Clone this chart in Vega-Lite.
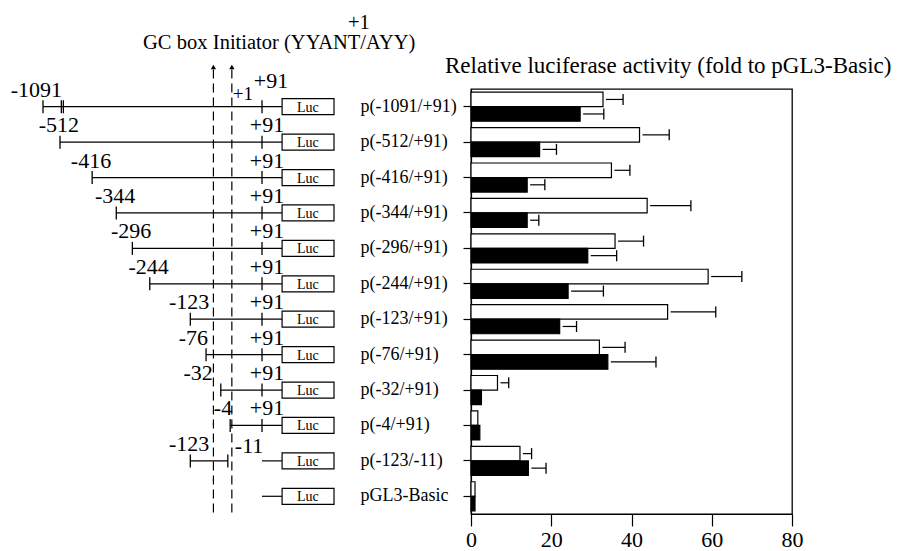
{
  "$schema": "https://vega.github.io/schema/vega-lite/v6.json",
  "autosize": {"type": "pad"},
  "padding": {"left": 0, "top": 12, "right": 0, "bottom": 0},
  "background": "white",
  "config": {
    "font": "Liberation Serif",
    "view": {"stroke": null},
    "text": {"font": "Liberation Serif", "color": "black"},
    "axis": {"labelFont": "Liberation Serif", "labelColor": "black", "domainColor": "black", "tickColor": "black", "domainWidth": 1.2, "tickWidth": 1.2, "grid": false, "title": null}
  },
  "datasets": {
    "bars": [
      {"construct": "p(-1091/+91)", "series": "open", "value": 32.9, "upper": 37.9},
      {"construct": "p(-1091/+91)", "series": "filled", "value": 27.2, "upper": 33.1},
      {"construct": "p(-512/+91)", "series": "open", "value": 42.0, "upper": 49.4},
      {"construct": "p(-512/+91)", "series": "filled", "value": 17.1, "upper": 21.3},
      {"construct": "p(-416/+91)", "series": "open", "value": 35.0, "upper": 39.6},
      {"construct": "p(-416/+91)", "series": "filled", "value": 14.0, "upper": 18.4},
      {"construct": "p(-344/+91)", "series": "open", "value": 43.9, "upper": 54.8},
      {"construct": "p(-344/+91)", "series": "filled", "value": 14.0, "upper": 16.9},
      {"construct": "p(-296/+91)", "series": "open", "value": 35.9, "upper": 43.0},
      {"construct": "p(-296/+91)", "series": "filled", "value": 29.1, "upper": 36.3},
      {"construct": "p(-244/+91)", "series": "open", "value": 59.1, "upper": 67.5},
      {"construct": "p(-244/+91)", "series": "filled", "value": 24.2, "upper": 33.0},
      {"construct": "p(-123/+91)", "series": "open", "value": 49.0, "upper": 61.0},
      {"construct": "p(-123/+91)", "series": "filled", "value": 22.1, "upper": 26.3},
      {"construct": "p(-76/+91)", "series": "open", "value": 32.0, "upper": 38.4},
      {"construct": "p(-76/+91)", "series": "filled", "value": 34.1, "upper": 46.1},
      {"construct": "p(-32/+91)", "series": "open", "value": 6.6, "upper": 9.4},
      {"construct": "p(-32/+91)", "series": "filled", "value": 2.6, "upper": null},
      {"construct": "p(-4/+91)", "series": "open", "value": 1.7, "upper": null},
      {"construct": "p(-4/+91)", "series": "filled", "value": 2.2, "upper": null},
      {"construct": "p(-123/-11)", "series": "open", "value": 12.2, "upper": 15.1},
      {"construct": "p(-123/-11)", "series": "filled", "value": 14.3, "upper": 18.7},
      {"construct": "pGL3-Basic", "series": "open", "value": 1.0, "upper": null},
      {"construct": "pGL3-Basic", "series": "filled", "value": 1.0, "upper": null}
    ],
    "constructs": [
      {"row": 1, "name": "p(-1091/+91)"}, {"row": 2, "name": "p(-512/+91)"}, {"row": 3, "name": "p(-416/+91)"},
      {"row": 4, "name": "p(-344/+91)"}, {"row": 5, "name": "p(-296/+91)"}, {"row": 6, "name": "p(-244/+91)"},
      {"row": 7, "name": "p(-123/+91)"}, {"row": 8, "name": "p(-76/+91)"}, {"row": 9, "name": "p(-32/+91)"},
      {"row": 10, "name": "p(-4/+91)"}, {"row": 11, "name": "p(-123/-11)"}, {"row": 12, "name": "pGL3-Basic"}
    ],
    "segments": [
      {"row": 1, "from": -1091, "to": 151}, {"row": 2, "from": -512, "to": 151}, {"row": 3, "from": -416, "to": 151},
      {"row": 4, "from": -344, "to": 151}, {"row": 5, "from": -296, "to": 151}, {"row": 6, "from": -244, "to": 151},
      {"row": 7, "from": -123, "to": 151}, {"row": 8, "from": -76, "to": 151}, {"row": 9, "from": -32, "to": 151},
      {"row": 10, "from": -4, "to": 151}, {"row": 11, "from": -123, "to": -11}, {"row": 11, "from": 91, "to": 151},
      {"row": 12, "from": 91, "to": 151}
    ],
    "ticks": [
      {"row": 1, "pos": -1091}, {"row": 1, "pos": -508}, {"row": 1, "pos": -502}, {"row": 1, "pos": 91},
      {"row": 2, "pos": -512}, {"row": 2, "pos": 91},
      {"row": 3, "pos": -416}, {"row": 3, "pos": 91},
      {"row": 4, "pos": -344}, {"row": 4, "pos": 91},
      {"row": 5, "pos": -296}, {"row": 5, "pos": 91},
      {"row": 6, "pos": -244}, {"row": 6, "pos": 91},
      {"row": 7, "pos": -123}, {"row": 7, "pos": 91},
      {"row": 8, "pos": -76}, {"row": 8, "pos": 91},
      {"row": 9, "pos": -32}, {"row": 9, "pos": 91},
      {"row": 10, "pos": -4}, {"row": 10, "pos": 91},
      {"row": 11, "pos": -123}, {"row": 11, "pos": -11}
    ],
    "labels": [
      {"row": 1, "pos": -1091, "text": "-1091", "kind": "start"},
      {"row": 2, "pos": -512, "text": "-512", "kind": "start"},
      {"row": 3, "pos": -416, "text": "-416", "kind": "start"},
      {"row": 4, "pos": -344, "text": "-344", "kind": "start"},
      {"row": 5, "pos": -296, "text": "-296", "kind": "start"},
      {"row": 6, "pos": -244, "text": "-244", "kind": "start"},
      {"row": 7, "pos": -123, "text": "-123", "kind": "start"},
      {"row": 8, "pos": -76, "text": "-76", "kind": "start-near"},
      {"row": 9, "pos": -32, "text": "-32", "kind": "start-left"},
      {"row": 10, "pos": -4, "text": "-4", "kind": "start-near"},
      {"row": 11, "pos": -123, "text": "-123", "kind": "start"},
      {"row": 1, "pos": 1, "text": "+1", "kind": "tss"},
      {"row": 1, "pos": 91, "text": "+91", "kind": "end-high"},
      {"row": 2, "pos": 91, "text": "+91", "kind": "end"},
      {"row": 3, "pos": 91, "text": "+91", "kind": "end"},
      {"row": 4, "pos": 91, "text": "+91", "kind": "end"},
      {"row": 5, "pos": 91, "text": "+91", "kind": "end"},
      {"row": 6, "pos": 91, "text": "+91", "kind": "end"},
      {"row": 7, "pos": 91, "text": "+91", "kind": "end"},
      {"row": 8, "pos": 91, "text": "+91", "kind": "end"},
      {"row": 9, "pos": 91, "text": "+91", "kind": "end"},
      {"row": 10, "pos": 91, "text": "+91", "kind": "end"},
      {"row": 11, "pos": -11, "text": "-11", "kind": "end-left"}
    ],
    "sites": [
      {"site": "GC box", "pos": -54, "label": "GC box"},
      {"site": "Initiator", "pos": 1, "label": "Initiator (YYANT/AYY)"}
    ]
  },
  "bounds": "flush",
  "spacing": 111,
  "hconcat": [
    {
      "width": 360,
      "height": 425,
      "layer": [
        {
          "data": {"name": "sites"},
          "mark": {"type": "rule", "color": "black", "strokeWidth": 1.2, "strokeDash": [9, 5]},
          "encoding": {
            "x": {"field": "pos", "type": "quantitative", "scale": {"type": "linear", "domain": [-1091, -512, 400], "range": [43, 60, 365.5], "nice": false, "zero": false}, "axis": null},
            "y": {"datum": -0.05, "type": "quantitative", "scale": {"type": "linear", "domain": [0.5, 12.5], "reverse": true, "nice": false, "zero": false}, "axis": null},
            "y2": {"datum": 12.5}
          }
        },
        {
          "data": {"name": "sites"},
          "mark": {"type": "point", "shape": "triangle-up", "filled": true, "color": "black", "size": 28, "opacity": 1},
          "encoding": {
            "x": {"field": "pos", "type": "quantitative", "scale": {"type": "linear", "domain": [-1091, -512, 400], "range": [43, 60, 365.5], "nice": false, "zero": false}, "axis": null},
            "y": {"datum": -0.12, "type": "quantitative", "scale": {"type": "linear", "domain": [0.5, 12.5], "reverse": true, "nice": false, "zero": false}, "axis": null}
          }
        },
        {
          "data": {"name": "sites"},
          "transform": [{"filter": "datum.site == 'GC box'"}],
          "mark": {"type": "text", "align": "right", "baseline": "alphabetic", "dx": -6, "fontSize": 20.5},
          "encoding": {
            "x": {"field": "pos", "type": "quantitative", "scale": {"type": "linear", "domain": [-1091, -512, 400], "range": [43, 60, 365.5], "nice": false, "zero": false}, "axis": null},
            "y": {"datum": -0.63, "type": "quantitative", "scale": {"type": "linear", "domain": [0.5, 12.5], "reverse": true, "nice": false, "zero": false}, "axis": null},
            "text": {"field": "label"}
          }
        },
        {
          "data": {"name": "sites"},
          "transform": [{"filter": "datum.site == 'Initiator'"}],
          "mark": {"type": "text", "align": "left", "baseline": "alphabetic", "dx": -19, "fontSize": 20.5},
          "encoding": {
            "x": {"field": "pos", "type": "quantitative", "scale": {"type": "linear", "domain": [-1091, -512, 400], "range": [43, 60, 365.5], "nice": false, "zero": false}, "axis": null},
            "y": {"datum": -0.63, "type": "quantitative", "scale": {"type": "linear", "domain": [0.5, 12.5], "reverse": true, "nice": false, "zero": false}, "axis": null},
            "text": {"field": "label"}
          }
        },
        {
          "data": {"name": "sites"},
          "transform": [{"filter": "datum.site == 'Initiator'"}],
          "mark": {"type": "text", "align": "center", "baseline": "alphabetic", "dx": 127, "fontSize": 20.5},
          "encoding": {
            "x": {"field": "pos", "type": "quantitative", "scale": {"type": "linear", "domain": [-1091, -512, 400], "range": [43, 60, 365.5], "nice": false, "zero": false}, "axis": null},
            "y": {"datum": -1.2, "type": "quantitative", "scale": {"type": "linear", "domain": [0.5, 12.5], "reverse": true, "nice": false, "zero": false}, "axis": null},
            "text": {"value": "+1"}
          }
        },
        {
          "data": {"name": "segments"},
          "mark": {"type": "rule", "color": "black", "strokeWidth": 1.2},
          "encoding": {
            "x": {"field": "from", "type": "quantitative", "scale": {"type": "linear", "domain": [-1091, -512, 400], "range": [43, 60, 365.5], "nice": false, "zero": false}, "axis": null},
            "x2": {"field": "to"},
            "y": {"field": "row", "type": "quantitative", "scale": {"type": "linear", "domain": [0.5, 12.5], "reverse": true, "nice": false, "zero": false}, "axis": null}
          }
        },
        {
          "data": {"name": "ticks"},
          "mark": {"type": "tick", "orient": "vertical", "color": "black", "size": 13, "thickness": 1.3, "opacity": 1},
          "encoding": {
            "x": {"field": "pos", "type": "quantitative", "scale": {"type": "linear", "domain": [-1091, -512, 400], "range": [43, 60, 365.5], "nice": false, "zero": false}, "axis": null},
            "y": {"field": "row", "type": "quantitative", "scale": {"type": "linear", "domain": [0.5, 12.5], "reverse": true, "nice": false, "zero": false}, "axis": null}
          }
        },
        {
          "data": {"name": "constructs"},
          "mark": {"type": "rect", "fill": "white", "stroke": "black", "strokeWidth": 1.2, "yOffset": -8, "y2Offset": 8},
          "encoding": {
            "x": {"datum": 151, "type": "quantitative", "scale": {"type": "linear", "domain": [-1091, -512, 400], "range": [43, 60, 365.5], "nice": false, "zero": false}, "axis": null},
            "x2": {"datum": 306},
            "y": {"field": "row", "type": "quantitative", "scale": {"type": "linear", "domain": [0.5, 12.5], "reverse": true, "nice": false, "zero": false}, "axis": null},
            "y2": {"field": "row"}
          }
        },
        {
          "data": {"name": "constructs"},
          "mark": {"type": "text", "align": "center", "baseline": "middle", "fontSize": 14, "dy": 1},
          "encoding": {
            "x": {"datum": 228, "type": "quantitative", "scale": {"type": "linear", "domain": [-1091, -512, 400], "range": [43, 60, 365.5], "nice": false, "zero": false}, "axis": null},
            "y": {"field": "row", "type": "quantitative", "scale": {"type": "linear", "domain": [0.5, 12.5], "reverse": true, "nice": false, "zero": false}, "axis": null},
            "text": {"value": "Luc"}
          }
        },
        {
          "data": {"name": "labels"},
          "transform": [{"filter": "datum.kind == 'start'"}],
          "mark": {"type": "text", "align": "right", "baseline": "alphabetic", "dx": 19, "dy": -10, "fontSize": 22},
          "encoding": {
            "x": {"field": "pos", "type": "quantitative", "scale": {"type": "linear", "domain": [-1091, -512, 400], "range": [43, 60, 365.5], "nice": false, "zero": false}, "axis": null},
            "y": {"field": "row", "type": "quantitative", "scale": {"type": "linear", "domain": [0.5, 12.5], "reverse": true, "nice": false, "zero": false}, "axis": null},
            "text": {"field": "text"}
          }
        },
        {
          "data": {"name": "labels"},
          "transform": [{"filter": "datum.kind == 'start-near'"}],
          "mark": {"type": "text", "align": "right", "baseline": "alphabetic", "dx": 2, "dy": -10, "fontSize": 22},
          "encoding": {
            "x": {"field": "pos", "type": "quantitative", "scale": {"type": "linear", "domain": [-1091, -512, 400], "range": [43, 60, 365.5], "nice": false, "zero": false}, "axis": null},
            "y": {"field": "row", "type": "quantitative", "scale": {"type": "linear", "domain": [0.5, 12.5], "reverse": true, "nice": false, "zero": false}, "axis": null},
            "text": {"field": "text"}
          }
        },
        {
          "data": {"name": "labels"},
          "transform": [{"filter": "datum.kind == 'start-left'"}],
          "mark": {"type": "text", "align": "right", "baseline": "alphabetic", "dx": -8, "dy": -10, "fontSize": 22},
          "encoding": {
            "x": {"field": "pos", "type": "quantitative", "scale": {"type": "linear", "domain": [-1091, -512, 400], "range": [43, 60, 365.5], "nice": false, "zero": false}, "axis": null},
            "y": {"field": "row", "type": "quantitative", "scale": {"type": "linear", "domain": [0.5, 12.5], "reverse": true, "nice": false, "zero": false}, "axis": null},
            "text": {"field": "text"}
          }
        },
        {
          "data": {"name": "labels"},
          "transform": [{"filter": "datum.kind == 'end'"}],
          "mark": {"type": "text", "align": "center", "baseline": "alphabetic", "dx": 5, "dy": -10, "fontSize": 22},
          "encoding": {
            "x": {"field": "pos", "type": "quantitative", "scale": {"type": "linear", "domain": [-1091, -512, 400], "range": [43, 60, 365.5], "nice": false, "zero": false}, "axis": null},
            "y": {"field": "row", "type": "quantitative", "scale": {"type": "linear", "domain": [0.5, 12.5], "reverse": true, "nice": false, "zero": false}, "axis": null},
            "text": {"field": "text"}
          }
        },
        {
          "data": {"name": "labels"},
          "transform": [{"filter": "datum.kind == 'end-high'"}],
          "mark": {"type": "text", "align": "center", "baseline": "alphabetic", "dx": 9, "dy": -19, "fontSize": 22},
          "encoding": {
            "x": {"field": "pos", "type": "quantitative", "scale": {"type": "linear", "domain": [-1091, -512, 400], "range": [43, 60, 365.5], "nice": false, "zero": false}, "axis": null},
            "y": {"field": "row", "type": "quantitative", "scale": {"type": "linear", "domain": [0.5, 12.5], "reverse": true, "nice": false, "zero": false}, "axis": null},
            "text": {"field": "text"}
          }
        },
        {
          "data": {"name": "labels"},
          "transform": [{"filter": "datum.kind == 'end-left'"}],
          "mark": {"type": "text", "align": "left", "baseline": "alphabetic", "dx": 7, "dy": -8, "fontSize": 22},
          "encoding": {
            "x": {"field": "pos", "type": "quantitative", "scale": {"type": "linear", "domain": [-1091, -512, 400], "range": [43, 60, 365.5], "nice": false, "zero": false}, "axis": null},
            "y": {"field": "row", "type": "quantitative", "scale": {"type": "linear", "domain": [0.5, 12.5], "reverse": true, "nice": false, "zero": false}, "axis": null},
            "text": {"field": "text"}
          }
        },
        {
          "data": {"name": "labels"},
          "transform": [{"filter": "datum.kind == 'tss'"}],
          "mark": {"type": "text", "align": "left", "baseline": "alphabetic", "dx": 1, "dy": -7, "fontSize": 19},
          "encoding": {
            "x": {"field": "pos", "type": "quantitative", "scale": {"type": "linear", "domain": [-1091, -512, 400], "range": [43, 60, 365.5], "nice": false, "zero": false}, "axis": null},
            "y": {"field": "row", "type": "quantitative", "scale": {"type": "linear", "domain": [0.5, 12.5], "reverse": true, "nice": false, "zero": false}, "axis": null},
            "text": {"field": "text"}
          }
        }
      ]
    },
    {
      "width": 321,
      "height": 425,
      "data": {"name": "bars"},
      "view": {"stroke": "black", "strokeWidth": 1.3},
      "title": {"text": "Relative luciferase activity (fold to pGL3-Basic)", "anchor": "start", "frame": "group", "dx": -26, "offset": -7, "fontSize": 23, "font": "Liberation Serif", "fontWeight": "normal", "color": "black", "baseline": "alphabetic"},
      "encoding": {
        "y": {
          "field": "construct", "type": "nominal",
          "scale": {"domain": ["p(-1091/+91)", "p(-512/+91)", "p(-416/+91)", "p(-344/+91)", "p(-296/+91)", "p(-244/+91)", "p(-123/+91)", "p(-76/+91)", "p(-32/+91)", "p(-4/+91)", "p(-123/-11)", "pGL3-Basic"], "paddingInner": 0.18, "paddingOuter": 0.09},
          "axis": {"tickSize": 8, "labelAlign": "left", "labelPadding": 103, "labelFontSize": 18, "labelBaseline": "middle"}
        },
        "yOffset": {"field": "series", "type": "nominal", "scale": {"domain": ["open", "filled"]}}
      },
      "layer": [
        {
          "mark": {"type": "bar", "stroke": "black", "strokeWidth": 1.2},
          "encoding": {
            "x": {"field": "value", "type": "quantitative", "scale": {"domain": [0, 80], "nice": false},
              "axis": {"values": [0, 20, 40, 60, 80], "tickSize": 12, "labelFontSize": 22, "labelPadding": 3, "labelFlush": false}},
            "fill": {"field": "series", "type": "nominal", "scale": {"domain": ["open", "filled"], "range": ["white", "black"]}, "legend": null}
          }
        },
        {
          "transform": [{"filter": "isValid(datum.upper)"}],
          "mark": {"type": "rule", "color": "black", "strokeWidth": 1.2, "xOffset": 3},
          "encoding": {
            "x": {"field": "value", "type": "quantitative"},
            "x2": {"field": "upper"}
          }
        },
        {
          "transform": [{"filter": "isValid(datum.upper)"}],
          "mark": {"type": "tick", "orient": "vertical", "color": "black", "size": 11, "thickness": 1.3, "opacity": 1},
          "encoding": {
            "x": {"field": "upper", "type": "quantitative"}
          }
        }
      ]
    }
  ]
}
